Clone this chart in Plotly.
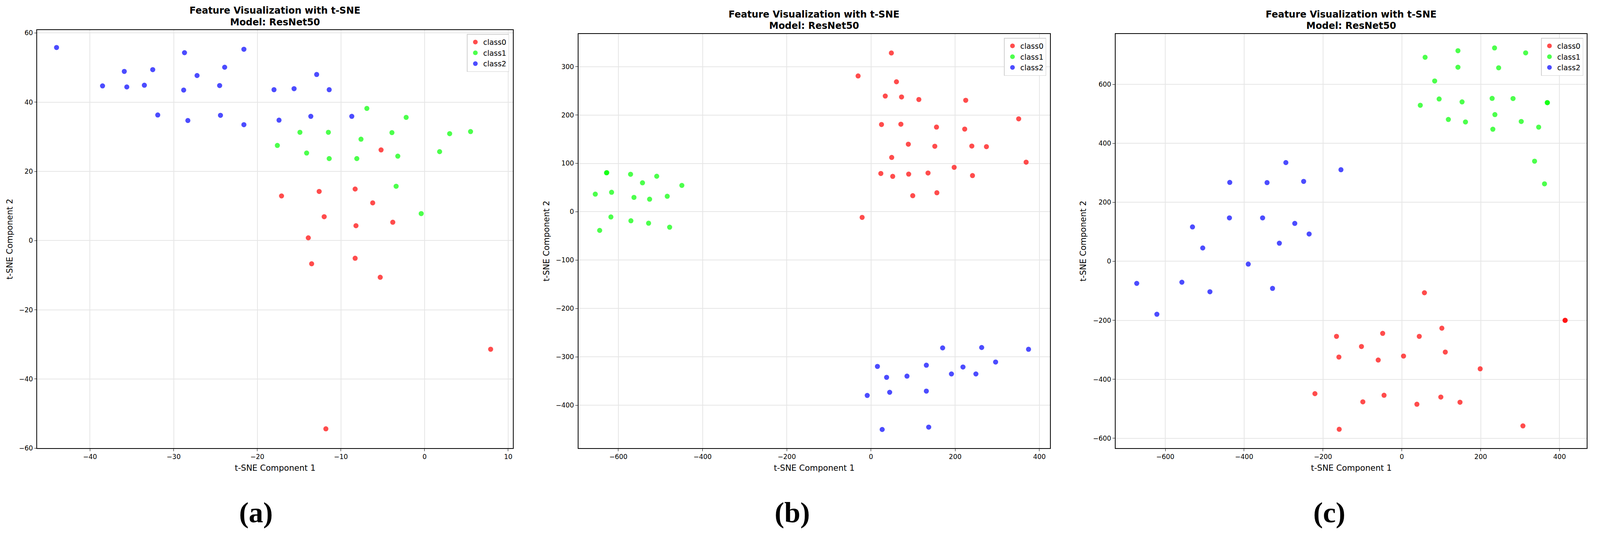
import plotly.graph_objects as go

# reference canvas size; all positions below are fractions of it
W, H = 4371, 1368

# ---- panel (a) ----
A_CLASS0_X = [-5.2, -17.1, -12.6, -8.3, -6.2, -12.0, -3.8, -8.2, -13.9, -13.5, -8.3, -5.3, 7.9, -11.8]
A_CLASS0_Y = [26.2, 12.9, 14.2, 14.9, 10.9, 6.9, 5.3, 4.3, 0.8, -6.7, -5.1, -10.6, -31.4, -54.4]
A_CLASS1_X = [-6.9, -2.2, -14.9, -11.5, -3.9, -7.6, 3.0, 5.5, -17.6, -14.1, -11.4, -8.1, -3.2, 1.8, -3.4, -0.4]
A_CLASS1_Y = [38.2, 35.6, 31.3, 31.3, 31.2, 29.3, 30.9, 31.5, 27.5, 25.3, 23.7, 23.7, 24.4, 25.7, 15.7, 7.8]
A_CLASS2_X = [-44.0, -38.5, -35.9, -35.6, -33.5, -32.5, -31.9, -28.7, -28.8, -28.3, -27.2, -24.5,
              -24.4, -23.9, -21.6, -21.6, -18.0, -17.4, -15.6, -13.6, -12.9, -11.4, -8.7]
A_CLASS2_Y = [55.8, 44.7, 48.9, 44.4, 44.9, 49.4, 36.3, 54.3, 43.5, 34.7, 47.7, 44.8,
              36.2, 50.1, 55.3, 33.5, 43.6, 34.8, 43.9, 35.9, 48.0, 43.6, 35.9]

# ---- panel (b) ----
B_CLASS0_X = [48.4, -30.6, 60.5, 33.9, 72.6, 113.7, 225, 350.8, 25, 71, 155.6, 222.6, 88.7, 151.6,
              239.5, 274.2, 49.2, 368.5, 197.6, 23.4, 51.6, 89.5, 135.5, 241.1, 99.2, 156.5, -21.0]
B_CLASS0_Y = [328.2, 280.7, 268.7, 239.2, 237.3, 232.0, 230.4, 192.1, 180.4, 181.0, 175.0, 170.9, 139.6, 135.4,
              135.8, 134.5, 112.3, 102.5, 91.8, 79.1, 73.1, 77.8, 80.1, 74.7, 33.2, 39.2, -11.7]
B_CLASS1_X = [-628.2, -627.5, -571, -508.9, -542.7, -449.2, -654.8, -616.1, -562.9, -525.8, -483.9,
              -617.7, -570.2, -528.2, -478.2, -644.4]
B_CLASS1_Y = [80.4, 80.9, 77.5, 73.4, 59.8, 54.4, 36.4, 40.2, 29.7, 25.9, 32.0,
              -10.8, -18.7, -23.7, -32.0, -38.6]
B_CLASS2_X = [170.2, 262.9, 374.2, 296, 15.3, 131.5, 218.5, 37.1, 85.5, 191.1, 249.2, -8.9, 44.4, 131.5, 26.6, 137.1]
B_CLASS2_Y = [-281.5, -280.7, -284.4, -310.7, -319.8, -317.3, -321.0, -342.4, -339.9, -335.4, -335.4,
              -379.8, -373.3, -370.8, -450.2, -445.3]

# ---- panel (c) ----
C_CLASS0_X = [57.3, 413.8, 414.3, 101.5, -48.6, -165.7, 44.2, -102.4, 110.2, 4.3, -159.6, -59.9, 198.7,
              -220.4, -45.1, 98.9, -98.9, 147.5, 38.2, 307.1, -158.8]
C_CLASS0_Y = [-106.6, -200.4, -199.8, -226.7, -244.3, -254.4, -254.4, -288.8, -307.7, -321.2, -324.6, -334.7, -364.4,
              -448.7, -454.1, -460.2, -476.4, -477.7, -484.5, -558.0, -569.5]
C_CLASS1_X = [59, 142.3, 235.1, 314, 142.3, 245.5, 83.3, 94.6, 152.7, 229, 282, 368.7, 369.2,
              46.8, 236, 118, 161.4, 302.8, 230.8, 347, 336.6, 361.8]
C_CLASS1_Y = [691.7, 714, 723.3, 706.7, 658, 656, 611.4, 550.3, 540.4, 552.3, 551.8, 538.3, 537.6,
              529, 497.4, 480.8, 472.5, 474.1, 447.7, 454.9, 339.4, 262.7]
C_CLASS2_X = [-294.1, -154.4, -436.4, -341.8, -249, -437.2, -353.1, -271.5, -530.9, -235.1,
              -504.9, -310.6, -389.5, -672.3, -557.8, -486.7, -327.9, -621.2]
C_CLASS2_Y = [334.7, 310.4, 267.4, 266.8, 271, 147.2, 147.2, 128.5, 116.6, 92.7,
              45.2, 61.4, -9.4, -74.9, -70.9, -103.2, -91.8, -179.5]

CLASS_NAMES = ["class0", "class1", "class2"]
CLASS_COLORS = ["rgba(255,0,0,0.7)", "rgba(0,255,0,0.7)", "rgba(0,0,255,0.7)"]
CAPTIONS = ["(a)", "(b)", "(c)"]

panels = [
    dict(data=[(A_CLASS0_X, A_CLASS0_Y), (A_CLASS1_X, A_CLASS1_Y), (A_CLASS2_X, A_CLASS2_Y)],
         box=(102.3, 75.1, 1406.4, 1156.2), xr=[-46.3, 10.55], yr=[-60.0, 60.8], dx=10, dy=20,
         ylab_x=27, cap_x=702),
    dict(data=[(B_CLASS0_X, B_CLASS0_Y), (B_CLASS1_X, B_CLASS1_Y), (B_CLASS2_X, B_CLASS2_Y)],
         box=(1586.2, 85.0, 2879.5, 1156.2), xr=[-695, 425], yr=[-488.9, 367.4], dx=200, dy=100,
         ylab_x=1498, cap_x=2173),
    dict(data=[(C_CLASS0_X, C_CLASS0_Y), (C_CLASS1_X, C_CLASS1_Y), (C_CLASS2_X, C_CLASS2_Y)],
         box=(3059.5, 85.0, 4352.2, 1156.2), xr=[-726, 469.3], yr=[-633.6, 770.5], dx=200, dy=200,
         ylab_x=2970, cap_x=3646),
]


def px_x(p):
    return p / W


def px_y(p):
    return 1 - p / H


FONT = "DejaVu Sans"
fig = go.Figure()
annotations = []

for i, pan in enumerate(panels):
    n = "" if i == 0 else str(i + 1)
    leg = "legend" + n
    for (xs, ys), name, col in zip(pan["data"], CLASS_NAMES, CLASS_COLORS):
        fig.add_trace(go.Scatter(
            x=xs, y=ys, mode="markers", name=name,
            marker=dict(size=13, color=col, line=dict(width=0)),
            xaxis="x" + n, yaxis="y" + n, legend=leg,
        ))

    x0, y0, x1, y1 = pan["box"]
    axis_common = dict(
        showline=True, linecolor="black", linewidth=1.6, mirror=True,
        showgrid=True, gridcolor="#e6e6e6", gridwidth=1.5,
        zeroline=False, ticks="outside", ticklen=6, tickwidth=1.4, tickcolor="black",
        tickfont=dict(family=FONT, size=17, color="black"), tick0=0,
    )
    fig.update_layout({
        "xaxis" + n: dict(axis_common, domain=[px_x(x0), px_x(x1)], range=pan["xr"],
                          dtick=pan["dx"], anchor="y" + n),
        "yaxis" + n: dict(axis_common, domain=[px_y(y1), px_y(y0)], range=pan["yr"],
                          dtick=pan["dy"], anchor="x" + n),
        leg: dict(x=px_x(x1 - 10), y=px_y(y0 + 10), xanchor="right", yanchor="top",
                  bgcolor="white", bordercolor="#d0d0d0", borderwidth=1.5,
                  font=dict(family=FONT, size=19, color="black"),
                  itemsizing="constant", tracegroupgap=0),
    })

    cx = (x0 + x1) / 2
    annotations.append(dict(
        text="<b>Feature Visualization with t-SNE</b>", x=px_x(cx), y=px_y(y0 - 51),
        xref="paper", yref="paper", showarrow=False, xanchor="center", yanchor="middle",
        font=dict(family=FONT, size=24, color="black")))
    annotations.append(dict(
        text="<b>Model: ResNet50</b>", x=px_x(cx), y=px_y(y0 - 21),
        xref="paper", yref="paper", showarrow=False, xanchor="center", yanchor="middle",
        font=dict(family=FONT, size=24, color="black")))
    annotations.append(dict(
        text="t-SNE Component 1", x=px_x(cx), y=px_y(1207),
        xref="paper", yref="paper", showarrow=False, xanchor="center", yanchor="middle",
        font=dict(family=FONT, size=21, color="black")))
    annotations.append(dict(
        text="t-SNE Component 2", x=px_x(pan["ylab_x"]), y=px_y((y0 + y1) / 2), textangle=-90,
        xref="paper", yref="paper", showarrow=False, xanchor="center", yanchor="middle",
        font=dict(family=FONT, size=21, color="black")))
    annotations.append(dict(
        text="<b>" + CAPTIONS[i] + "</b>", x=px_x(pan["cap_x"]), y=px_y(1323),
        xref="paper", yref="paper", showarrow=False, xanchor="center", yanchor="middle",
        font=dict(family="Liberation Serif", size=74, color="black")))

# width follows the browser window (it may be narrower than the reference), height is fixed
fig.update_layout(
    autosize=True, height=H,
    margin=dict(l=0, r=0, t=0, b=0),
    paper_bgcolor="white", plot_bgcolor="white",
    showlegend=True,
    annotations=annotations,
)

fig.write_html("out.html", config={"displayModeBar": False},
               post_script="document.body.style.margin='0';document.body.style.overflow='hidden';")
